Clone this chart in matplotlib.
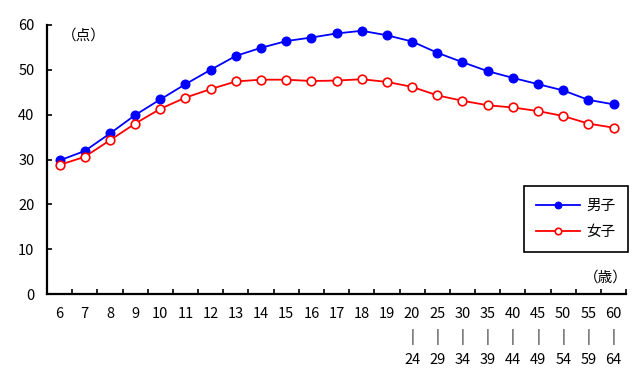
import matplotlib
matplotlib.use("Agg")
import matplotlib.pyplot as plt
import numpy as np

plt.rcParams['font.family'] = ['Noto Sans CJK JP', 'DejaVu Sans']

ages = ["6", "7", "8", "9", "10", "11", "12", "13", "14", "15", "16", "17", "18", "19",
        "20\n|\n24", "25\n|\n29", "30\n|\n34", "35\n|\n39", "40\n|\n44",
        "45\n|\n49", "50\n|\n54", "55\n|\n59", "60\n|\n64"]
boys = [29.8, 31.9, 35.8, 39.9, 43.4, 46.8, 50.0, 53.1, 54.9, 56.4, 57.2, 58.1, 58.7, 57.7,
        56.3, 53.8, 51.7, 49.7, 48.2, 46.8, 45.4, 43.3, 42.3]
girls = [28.8, 30.6, 34.3, 38.0, 41.3, 43.8, 45.7, 47.4, 47.8, 47.8, 47.5, 47.6, 47.9, 47.3,
         46.2, 44.3, 43.1, 42.1, 41.6, 40.8, 39.7, 38.0, 37.1]

x = np.arange(len(ages))

fig = plt.figure(figsize=(6.4, 3.78), dpi=100)
ax = fig.add_axes([0.0734, 0.222, 0.905, 0.712])

ax.plot(x, boys, color="#0000ff", lw=1.3, marker="o", ms=6.2, mfc="#0000ff", mec="#0000ff", label="男子")
ax.plot(x, girls, color="#ff0000", lw=1.3, marker="o", ms=6.2, mfc="white", mec="#ff0000", mew=1.2, label="女子")

ax.set_xlim(-0.5, len(ages) - 0.5)
ax.set_ylim(0, 60)
ax.set_yticks(range(0, 61, 10))
ax.set_xticks(x)
ax.set_xticklabels(ages, fontsize=10.5, linespacing=1.7)
ax.set_xticks(np.arange(-0.5, len(ages), 1.0), minor=True)
ax.tick_params(axis="x", which="major", length=0, pad=9)
ax.tick_params(axis="x", which="minor", direction="in", length=3.5, width=1.2)
ax.tick_params(axis="y", direction="in", length=3.5, width=1.2, labelsize=10.5, pad=9)

for s in ["top", "right"]:
    ax.spines[s].set_visible(False)
for s in ["left", "bottom"]:
    ax.spines[s].set_linewidth(1.6)

ax.text(0.025, 0.985, "（点）", transform=ax.transAxes, ha="left", va="top", fontsize=10.5)
ax.text(1.002, 0.035, "（歳）", transform=ax.transAxes, ha="right", va="bottom", fontsize=10.5)

leg = ax.legend(loc="upper right", bbox_to_anchor=(1.003, 0.40), borderaxespad=0, fancybox=False,
                edgecolor="black", fontsize=10.5, handlelength=3.0, handletextpad=0.45,
                labelspacing=0.85, borderpad=0.85, markerscale=0.75, framealpha=1)
leg.get_frame().set_linewidth(1.2)

fig.savefig("out.png", dpi=100)
